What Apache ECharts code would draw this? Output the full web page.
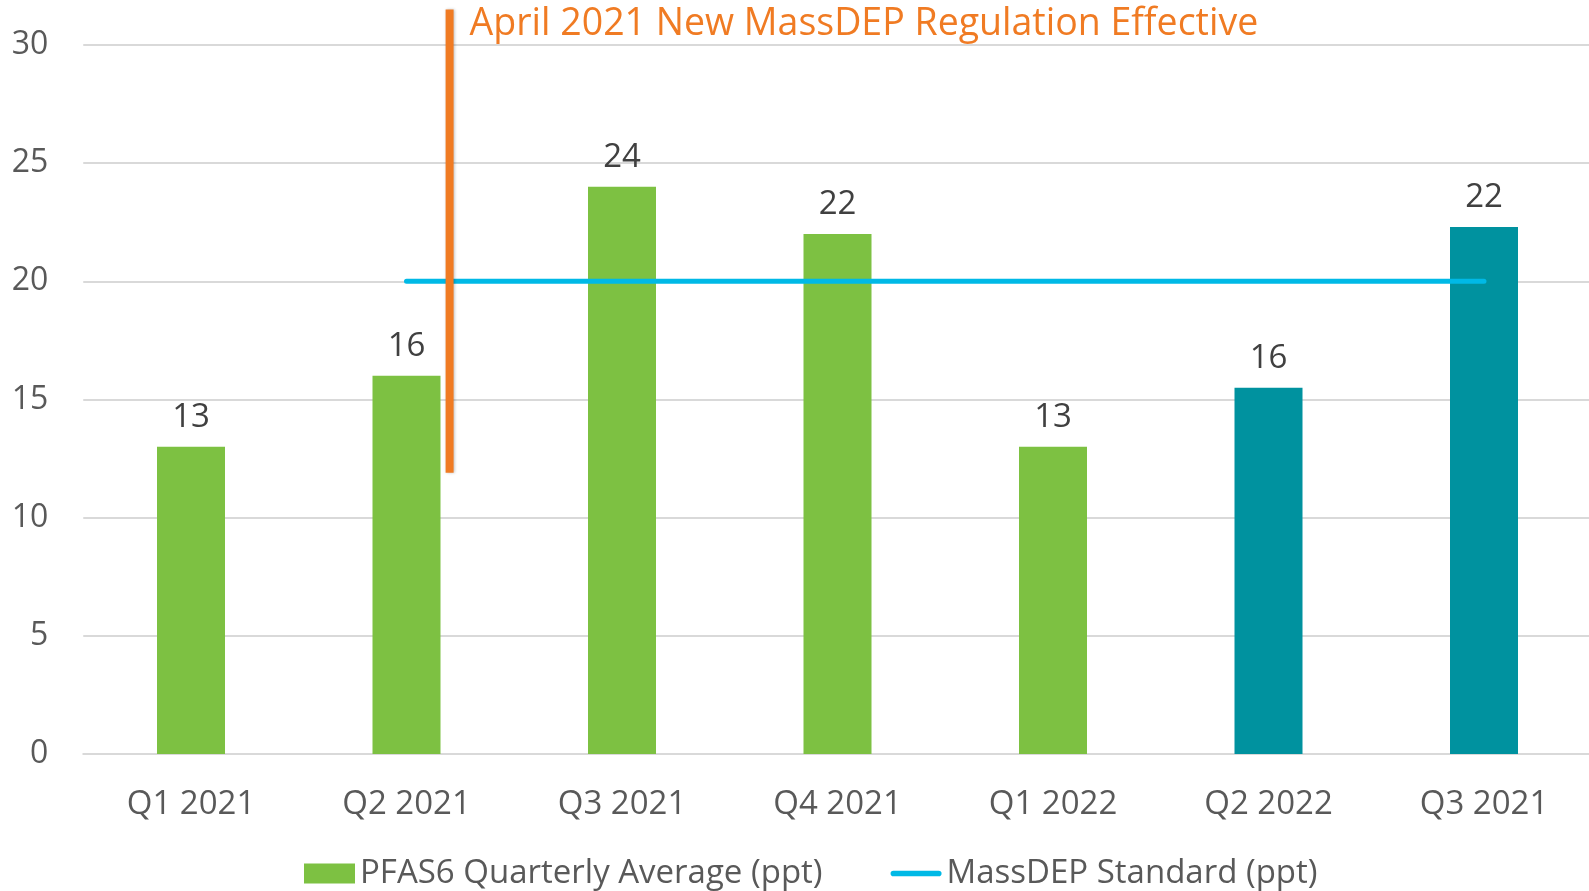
<!DOCTYPE html>
<html>
<head>
<meta charset="utf-8">
<script src="https://cdn.jsdelivr.net/npm/echarts@6/dist/echarts.min.js"></script>
<style>html,body{margin:0;padding:0;background:#fff;overflow:hidden}#c{width:1600px;height:891px}</style>
</head>
<body>
<div id="c"></div>
<script>
const categories = ['Q1 2021','Q2 2021','Q3 2021','Q4 2021','Q1 2022','Q2 2022','Q3 2021'];
const pfasValues = [13, 16, 24, 22, 13, 15.5, 22.3];
const standardValues = [null, 20, 20, 20, 20, 20, 20];
const regulationLine = [[1.2, 11.9, 31.5]];   // x position (category units), y from, y to
const regulationText = 'April 2021 New MassDEP Regulation Effective';
const yTicks = [0, 30, 5];
const tealFromIndex = 5;

const FONT = '"Open Sans", sans-serif';
const chart = echarts.init(document.getElementById('c'));
chart.setOption({
  animation: false,
  textStyle: { fontFamily: FONT },
  grid: { left: 83.25, width: 1508.5, top: 45, bottom: 137, containLabel: false },
  legend: {
    top: 852, left: 299,
    itemWidth: 51, itemHeight: 20, itemGap: 68,
    textStyle: { fontSize: 33, color: '#595959', fontFamily: FONT },
    data: [
      { name: 'PFAS6 Quarterly Average (ppt)', icon: 'rect', itemStyle: { color: '#7DC142' } },
      { name: 'MassDEP Standard (ppt)',
        icon: 'path://M3,0 L51,0 A3,3 0 0 1 51,6 L3,6 A3,3 0 0 1 3,0 Z',
        itemStyle: { color: '#00B9E6', borderWidth: 0 } }
    ]
  },
  xAxis: [
    {
      type: 'category', data: categories,
      axisLine: { lineStyle: { color: '#D9D9D9', width: 2 } },
      axisTick: { show: false },
      axisLabel: { fontSize: 33, color: '#595959', margin: 34, fontFamily: FONT }
    },
    { type: 'value', min: -0.5, max: 6.5, show: false }
  ],
  yAxis: {
    type: 'value', min: yTicks[0], max: yTicks[1], interval: yTicks[2],
    axisLine: { show: false }, axisTick: { show: false },
    splitLine: { lineStyle: { color: '#D9D9D9', width: 2 } },
    axisLabel: { fontSize: 32, color: '#595959', margin: 35, fontFamily: FONT }
  },
  series: [
    {
      name: 'PFAS6 Quarterly Average (ppt)', type: 'bar', data: pfasValues,
      barWidth: 68,
      itemStyle: { color: p => p.dataIndex >= tealFromIndex ? '#00929F' : '#7DC142' },
      label: { show: true, position: 'top', distance: 13, fontSize: 33, color: '#404040',
        formatter: p => Math.round(p.value), fontFamily: FONT },
      z: 2
    },
    {
      name: 'MassDEP Standard (ppt)', type: 'line', data: standardValues,
      symbol: 'none', lineStyle: { color: '#00B9E6', width: 5, cap: 'round' },
      itemStyle: { color: '#00B9E6' },
      z: 3
    },
    {
      name: 'regulation', type: 'custom', xAxisIndex: 1, yAxisIndex: 0,
      data: regulationLine, clip: false,
      renderItem: (params, api) => {
        const x = api.value(0);
        const p0 = api.coord([x, api.value(1)]);
        const p1 = api.coord([x, api.value(2)]);
        return {
          type: 'group',
          children: [
            { type: 'line', shape: { x1: p0[0], y1: p0[1], x2: p1[0], y2: p1[1] },
              style: { stroke: '#F07B23', lineWidth: 8, shadowColor: 'rgba(0,0,0,0.25)', shadowBlur: 3, shadowOffsetX: 1 } },
            { type: 'text', x: p1[0] + 20, y: p1[1] + 15,
              style: { text: regulationText, fill: '#F07B23', font: '37.5px ' + FONT,
                textAlign: 'left', textVerticalAlign: 'middle' } }
          ]
        };
      },
      z: 4
    }
  ]
});
</script>
</body>
</html>
